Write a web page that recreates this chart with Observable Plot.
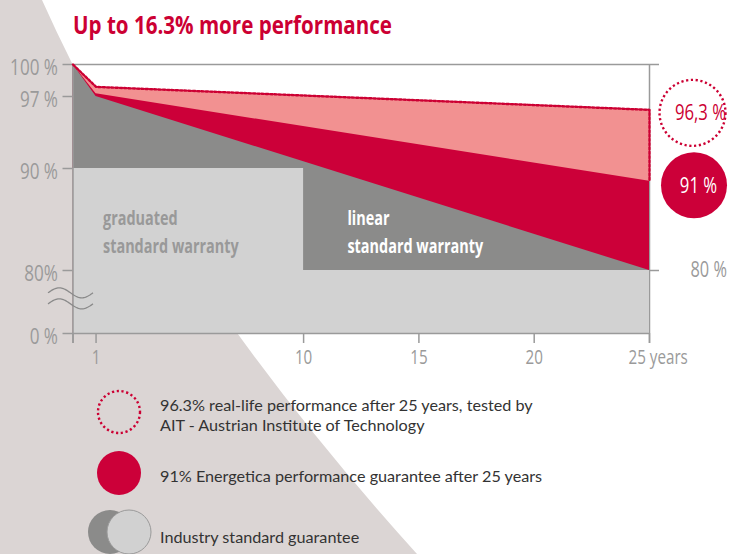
<!DOCTYPE html>
<html><head><meta charset="utf-8">
<script src="https://cdn.jsdelivr.net/npm/d3@7"></script>
<script src="https://cdn.jsdelivr.net/npm/@observablehq/plot@0.6"></script>
<style>
html,body{margin:0;padding:0;background:#fff;}
#wrap{position:relative;width:731px;height:554px;overflow:hidden;font-family:"Open Sans",sans-serif;}
#bg{position:absolute;left:0;top:0;}
#chart{position:absolute;left:0;top:0;}
#legsw{position:absolute;left:0;top:0;}
.leg{position:absolute;left:160px;font-family:Lato,"Liberation Sans",sans-serif;font-size:16.2px;color:#333;line-height:20px;white-space:nowrap;}
</style></head><body>
<div id="wrap">
<svg id="bg" width="731" height="554">
  <path d="M0,0 L42,0 Q166,276.5 417,554 L0,554 Z" fill="#dbd5d4"/>
  <text x="73" y="34" font-family="Open Sans" font-weight="bold" font-size="25" fill="#cc0033" textLength="319" lengthAdjust="spacingAndGlyphs">Up to 16.3% more performance</text>
</svg>
<div id="chart"></div>
<svg id="legsw" width="731" height="554">
  <circle cx="119" cy="412" r="21" fill="none" stroke="#cc0033" stroke-width="2.4" stroke-dasharray="2.2 2.6"/>
  <circle cx="119" cy="473" r="22" fill="#cc0039"/>
  <circle cx="110" cy="532" r="22" fill="#8b8b8a"/>
  <circle cx="129" cy="532" r="22" fill="#d1d1d1" stroke="#9a9a9a" stroke-width="1"/>
</svg>
<div class="leg" style="top:395px">96.3% real-life performance after 25 years, tested by<br>AIT - Austrian Institute of Technology</div>
<div class="leg" style="top:466px">91% Energetica performance guarantee after 25 years</div>
<div class="leg" style="top:527px">Industry standard guarantee</div>
</div>
<script>
// ---- data ----
const years = [0, 1, 25];
const realLife = [100, 97.9, 95.7];      // dotted upper line (AIT test)
const energetica = [100, 97.25, 88.75];  // Energetica guarantee
const linearStd = [100, 97, 80];         // linear standard warranty
const gradYears = [0, 10, 25];
const gradValues = [90, 80, 80];         // graduated standard warranty (step)
const xTicks = [0, 1, 10, 15, 20, 25];
const xTickLabels = ["", "1", "10", "15", "20", "25 years"];
const yTicks = [100, 97, 90, 80, 0];
const yTickLabels = ["100 %", "97 %", "90 %", "80%", "0 %"];
const endLabels = ["96,3 %", "91 %"];
const rightTick = [80];
const rightTickLabel = ["80 %"];
const annX = [1.3, 11.9];
const annY = [84, 84];
const annText = ["graduated\nstandard warranty", "linear\nstandard warranty"];

// ---- scales (broken y axis: 0–80 compressed) ----
const yDomain = [0, 80, 90, 97, 100];
const yPix = [333, 270, 168, 96, 64];
const yVirtual = yPix.map(p => (yPix[0] - p) / (yPix[0] - yPix[yPix.length - 1]) * 100);
const warp = d3.scaleLinear(yDomain, yVirtual);
const xDomain = [0, 25];

const rows = years.map((x, i) => ({x, real: realLife[i], ener: energetica[i], lin: linearStd[i]}));
const grad = gradYears.map((x, i) => ({x, v: gradValues[i]}));
const last = years.length - 1;
const dotted = rows.map(d => ({x: d.x, y: d.real})).concat([{x: years[last], y: energetica[last]}]);
const ends = [{x: years[last], y: realLife[last], label: endLabels[0]}, {x: years[last], y: energetica[last], label: endLabels[1]}];
const ann = annX.map((x, i) => ({x, y: annY[i], text: annText[i]}));
const xt = xTicks.map((x, i) => ({x, label: xTickLabels[i]}));
const yt = yTicks.map((y, i) => ({y, label: yTickLabels[i]}));

const AX = "#9a9a9a";
const FONT = "Open Sans, sans-serif";

const chart = Plot.plot({
  width: 731, height: 380,
  marginLeft: 72.5, marginRight: 82, marginTop: 64, marginBottom: 47,
  style: {background: "transparent", fontFamily: FONT, overflow: "visible"},
  x: {domain: xDomain, axis: null},
  y: {domain: [0, 100], transform: warp, axis: null},
  marks: [
    Plot.ruleX([xDomain[1]], {y1: 100, y2: 0, insetBottom: -10, stroke: AX, strokeWidth: 1.5}),
    Plot.areaY(rows, {x: "x", y: "real", fill: "#f29191"}),
    Plot.areaY(rows, {x: "x", y: "ener", fill: "#cc0039"}),
    Plot.areaY(rows, {x: "x", y: "lin", fill: "#8b8b8a"}),
    Plot.areaY(grad, {x: "x", y: "v", fill: "#d2d2d2", curve: "step-after"}),
    Plot.ruleY([100], {x1: 0, x2: 25, insetRight: -10, stroke: AX, strokeWidth: 1.5}),
    Plot.ruleY(rightTick, {x1: 25, x2: 25, insetRight: -10, stroke: AX, strokeWidth: 1.5}),
    Plot.ruleY([0], {x1: 0, x2: 25, stroke: AX, strokeWidth: 1.5}),
    Plot.ruleX([0], {y1: 100, y2: 0, insetBottom: -10, stroke: AX, strokeWidth: 1.5}),
    Plot.ruleX(xt, {x: "x", y1: 0, y2: 0, insetBottom: -10, stroke: AX, strokeWidth: 1.5}),
    Plot.ruleY(yt, {y: "y", x1: 0, x2: 0, insetLeft: -10, stroke: AX, strokeWidth: 1.5}),
    Plot.line(dotted, {x: "x", y: "y", stroke: "#cc0033", strokeWidth: 2.4, strokeDasharray: "2.3 2"}),
    Plot.text(xt.slice(0, -1), {x: "x", y: 0, text: "label", dy: 24, fill: AX, fontSize: 20}),
    Plot.text(xt.slice(-1), {x: "x", y: 0, text: "label", dy: 24, dx: -21, textAnchor: "start", fill: AX, fontSize: 20}),
    Plot.text(yt, {x: 0, y: "y", text: "label", dx: -15, dy: 3, textAnchor: "end", fill: AX, fontSize: 22.5}),
    Plot.text(rightTick, {x: 25, y: d => d, text: (d, i) => rightTickLabel[i], dx: 41, textAnchor: "start", fill: AX, fontSize: 21.5}),
    Plot.text(ann.slice(0, 1), {x: "x", y: "y", text: "text", textAnchor: "start", lineHeight: 1.5, fill: "#999999", fontWeight: "bold", fontSize: 19}),
    Plot.text(ann.slice(1), {x: "x", y: "y", text: "text", textAnchor: "start", lineHeight: 1.5, fill: "#ffffff", fontWeight: "bold", fontSize: 19}),
    Plot.dot(ends.slice(0, 1), {x: "x", y: "y", r: 33, dx: 43, dy: 3, fill: "none", stroke: "#cc0033", strokeWidth: 2.4, strokeDasharray: "2.2 2.6"}),
    Plot.dot(ends.slice(1), {x: "x", y: "y", r: 33, dx: 44.5, dy: 4, fill: "#cc0039"}),
    Plot.text(ends.slice(0, 1), {x: "x", y: "y", text: "label", dx: 51, dy: 3, fill: "#cc0033", fontSize: 22}),
    Plot.text(ends.slice(1), {x: "x", y: "y", text: "label", dx: 49, dy: 5, fill: "#ffffff", fontSize: 22})
  ]
});
document.getElementById("chart").appendChild(chart);

// condense all chart texts horizontally (reference uses a condensed typeface)
const SX = 0.76;
d3.select(chart).selectAll("text").each(function() {
  const t = d3.select(this);
  const tr = t.attr("transform") || "";
  t.attr("transform", `${tr} scale(${SX},1)`);
});

// axis-break squiggle on the y axis between 80 % and 0 %
const ys = d3.scaleLinear(yDomain, yPix);
const xs = d3.scaleLinear(xDomain, [72.5, 649]);
const svg = d3.select(chart);
[51, 37].forEach(v => {
  const yc = ys(v), x0 = xs(0) - 24.5;
  const pts = d3.range(0, 1.0001, 0.02).map(t => [x0 + t * 45, yc - 5 * Math.sin(2 * Math.PI * t)]);
  svg.append("path").attr("d", d3.line()(pts)).attr("fill", "none").attr("stroke", "#8a8a8a").attr("stroke-width", 1.3);
});
</script>
</body></html>
